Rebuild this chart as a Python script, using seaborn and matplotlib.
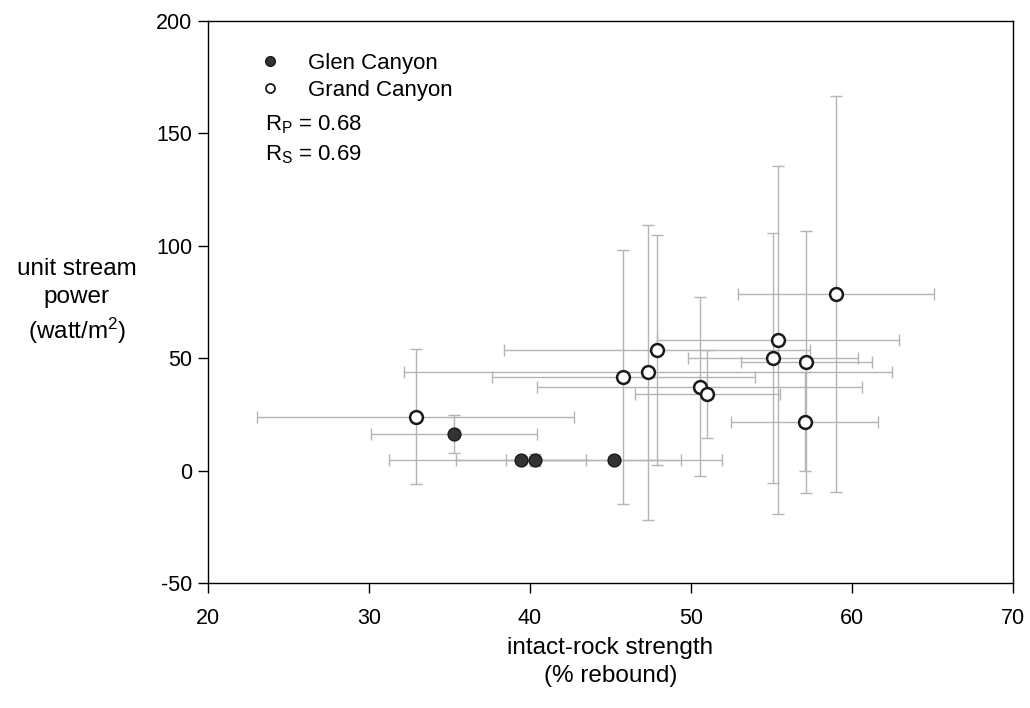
"""
Unit stream power vs intact-rock strength, Glen and Grand Canyon.
"""

import matplotlib
matplotlib.use('Agg')
import matplotlib.pyplot as plt
import seaborn as sns
import pandas as pd
from matplotlib.lines import Line2D

# Glen Canyon (filled)
glen_x = [35.3, 39.45, 40.3, 45.2]
glen_y = [16.2, 4.6, 4.8, 4.9]
glen_xerr = [5.15, 4.05, 9.05, 6.7]
glen_yerr = [8.5, 1.5, 2.6, 1.5]

# Grand Canyon (open)
grand_x = [32.9, 45.8, 47.35, 47.9, 50.55, 51.0, 55.1, 55.4, 57.15, 57.05, 59.0]
grand_y = [24.0, 41.5, 43.7, 53.7, 37.4, 34.1, 50.0, 58.3, 48.5, 21.8, 78.6]
grand_xerr = [9.85, 8.15, 15.15, 9.5, 10.1, 4.5, 5.27, 7.5, 4.07, 4.58, 6.07]
grand_yerr = [30.0, 56.5, 65.5, 51.0, 40.0, 19.6, 55.7, 77.4, 58.3, 22.0, 88.2]

r_pearson = 0.68
r_spearman = 0.69

sns.set_style('ticks')
plt.rcParams['font.family'] = ['Liberation Sans', 'DejaVu Sans']
plt.rcParams['mathtext.fontset'] = 'custom'
plt.rcParams['mathtext.rm'] = 'Liberation Sans'
plt.rcParams['mathtext.it'] = 'Liberation Sans'
plt.rcParams['axes.unicode_minus'] = False
plt.rcParams['text.color'] = 'black'
plt.rcParams['axes.labelcolor'] = 'black'

df = pd.concat([
    pd.DataFrame({'x': glen_x, 'y': glen_y, 'site': 'Glen Canyon'}),
    pd.DataFrame({'x': grand_x, 'y': grand_y, 'site': 'Grand Canyon'}),
])

fig = plt.figure(figsize=(10.3, 7.08), dpi=100)
ax = fig.add_axes([0.202, 0.1766, 0.7815, 0.7937])

err_style = dict(fmt='none', ecolor='#b4b4b4', elinewidth=1.0, capsize=4, capthick=1.0, zorder=1)
ax.errorbar(grand_x, grand_y, xerr=grand_xerr, yerr=grand_yerr, **err_style)
ax.errorbar(glen_x, glen_y, xerr=glen_xerr, yerr=glen_yerr, **err_style)

sns.scatterplot(data=df[df.site == 'Grand Canyon'], x='x', y='y', ax=ax,
                color='white', edgecolor='#1a1a1a', linewidth=1.8, s=85,
                zorder=3, legend=False)
sns.scatterplot(data=df[df.site == 'Glen Canyon'], x='x', y='y', ax=ax,
                color='#333333', edgecolor='#1a1a1a', linewidth=1.0, s=85,
                zorder=3, legend=False)

ax.set_xlim(20, 70)
ax.set_ylim(-50, 200)
ax.set_xticks(range(20, 71, 10))
ax.set_yticks(range(-50, 201, 50))
ax.tick_params(direction='out', length=7, width=1, labelsize=15.5, colors='black')
ax.tick_params(axis='x', pad=11)
ax.tick_params(axis='y', pad=4.5)
for sp in ax.spines.values():
    sp.set_visible(True)
    sp.set_linewidth(1.0)
    sp.set_color('black')

ax.set_xlabel('intact-rock strength\n(% rebound)', fontsize=17.5, linespacing=1.35)
ax.xaxis.set_label_coords(0.5, -0.141)
ax.xaxis.label.set_va('center')
ax.set_ylabel('unit stream\npower\n(watt/m$^2$)', fontsize=17.5, rotation=0,
              linespacing=1.35, ha='center', va='center')
ax.yaxis.set_label_coords(-0.163, 0.5)

handles = [
    Line2D([], [], marker='o', linestyle='none', markersize=7,
           markerfacecolor='#333333', markeredgecolor='#1a1a1a'),
    Line2D([], [], marker='o', linestyle='none', markersize=6.5,
           markerfacecolor='white', markeredgecolor='#1a1a1a', markeredgewidth=1.3),
]
ax.legend(handles, ['Glen Canyon', 'Grand Canyon'], loc='upper left',
          bbox_to_anchor=(0.0632, 0.943), frameon=False, fontsize=16,
          handletextpad=1.21, labelspacing=0.25, handlelength=1.0,
          borderaxespad=0, borderpad=0)

ax.text(0.0708, 0.816, 'R$_\\mathrm{P}$ = %.2f' % r_pearson, transform=ax.transAxes,
        fontsize=16, va='center', ha='left')
ax.text(0.0708, 0.763, 'R$_\\mathrm{S}$ = %.2f' % r_spearman, transform=ax.transAxes,
        fontsize=16, va='center', ha='left')

plt.savefig('out.png', dpi=100)
